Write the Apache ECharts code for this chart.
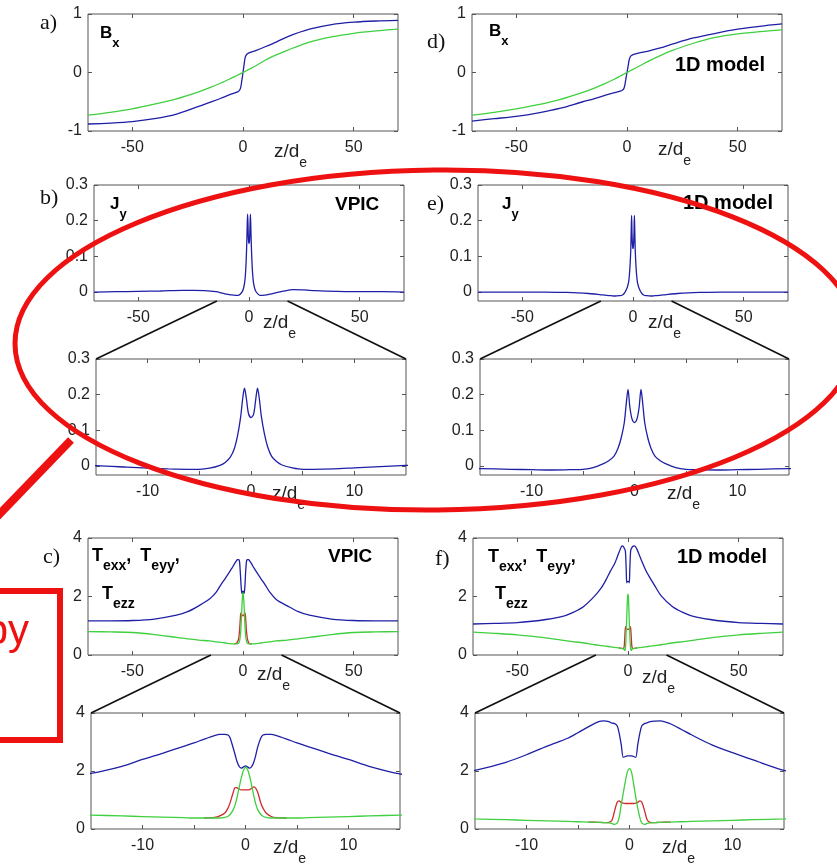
<!DOCTYPE html>
<html>
<head>
<meta charset="utf-8">
<script src="https://cdn.jsdelivr.net/npm/echarts@6/dist/echarts.min.js"></script>
<style>
  html, body { margin: 0; padding: 0; background: #fff; }
  #chart { width: 837px; height: 864px; }
</style>
</head>
<body>
<div id="chart"></div>
<script>
// ---------- B_x profiles (panels a, d) ----------
const zB = [-70,-60,-50,-40,-30,-20,-15,-10,-6,-3,-2,-1.5,-1,-0.5,0,0.5,1,1.5,2,3,6,10,15,20,30,40,50,60,70];
const bxVpicBlue  = [-0.88,-0.865,-0.84,-0.79,-0.71,-0.58,-0.51,-0.44,-0.38,-0.34,-0.32,-0.30,-0.25,-0.13,0,0.14,0.26,0.30,0.32,0.34,0.38,0.44,0.52,0.61,0.74,0.82,0.86,0.88,0.89];
const bxVpicGreen = [-0.73,-0.68,-0.62,-0.54,-0.45,-0.33,-0.26,-0.18,-0.11,-0.055,-0.037,-0.028,-0.018,-0.009,0,0.01,0.02,0.03,0.04,0.06,0.12,0.21,0.30,0.38,0.52,0.61,0.67,0.71,0.74];
const bx1dBlue    = [-0.83,-0.79,-0.75,-0.69,-0.61,-0.50,-0.45,-0.39,-0.35,-0.32,-0.30,-0.28,-0.22,-0.11,0,0.11,0.22,0.27,0.29,0.31,0.34,0.37,0.42,0.48,0.59,0.67,0.74,0.79,0.83];
const bx1dGreen   = [-0.73,-0.68,-0.62,-0.55,-0.46,-0.34,-0.27,-0.19,-0.12,-0.06,-0.04,-0.03,-0.02,-0.01,0,0.01,0.02,0.03,0.04,0.06,0.12,0.20,0.29,0.37,0.50,0.60,0.66,0.70,0.73];

// ---------- J_y profiles (panels b, e) ----------
const zJ = [-70,-60,-50,-40,-30,-25,-20,-15,-12,-10,-8,-6,-5,-4,-3,-2.5,-2,-1.6,-1.3,-1,-0.8,-0.63,-0.45,-0.25,0,0.25,0.45,0.63,0.8,1,1.3,1.6,2,2.5,3,4,5,6,8,10,12,15,20,25,30,40,50,60,70];
const jyVpic = [0,0.001,0.002,0.003,0.005, 0.005,0.004,0.001,-0.003,-0.006, -0.008,-0.009,-0.009,-0.006,0.002,
  0.01,0.025,0.05,0.085,0.138, 0.19,0.218,0.19,0.148,0.136, 0.145,0.185,0.218,0.19,0.14,
  0.09,0.055,0.027,0.012,0.003, -0.005,-0.009,-0.009,-0.008,-0.005, -0.002,0.002,0.007,0.006,0.004, 0.002,0.001,0.001,0];
const jy1d = [0,0,0,0,-0.001, -0.002,-0.004,-0.007,-0.009,-0.01, -0.011,-0.01,-0.009,-0.004,0.007,
  0.015,0.027,0.05,0.078,0.12, 0.175,0.215,0.165,0.133,0.122, 0.133,0.165,0.215,0.175,0.12,
  0.078,0.05,0.027,0.015,0.007, -0.004,-0.009,-0.01,-0.011,-0.01, -0.009,-0.007,-0.004,-0.002,-0.001, 0,0,0,0];

// ---------- electron temperatures (panels c, f) ----------
const zT = [-70,-60,-50,-40,-30,-25,-20,-15,-12,-10,-8,-6,-5,-4,-3,-2.5,-2,-1.7,-1.5,-1.2,-1,-0.8,-0.6,-0.4,-0.2,0,0.2,0.4,0.6,0.8,1,1.2,1.5,1.7,2,2.5,3,4,5,6,8,10,12,15,20,25,30,40,50,60,70];
const tVpicBlue = [1.17,1.17,1.18,1.23,1.36, 1.48,1.68,1.92,2.16,2.40, 2.62,2.85,2.97,3.10,3.22,
  3.26,3.26,3.24,3.15,2.80, 2.55,2.30,2.15,2.10,2.14, 2.18,2.14,2.10,2.15,2.30,
  2.55,2.85,3.15,3.24,3.26, 3.26,3.22,3.10,2.97,2.85, 2.62,2.40,2.16,1.90,1.68, 1.48,1.36,1.23,1.18,1.17, 1.17];
const tVpicGreen = [0.80,0.79,0.77,0.70,0.60, 0.55,0.51,0.48,0.45,0.43, 0.41,0.39,0.38,0.38,0.38,
  0.38,0.40,0.44,0.50,0.66, 0.84,1.12,1.45,1.78,2.02, 2.13,2.05,1.82,1.50,1.15,
  0.86,0.66,0.50,0.44,0.40, 0.38,0.38,0.38,0.38,0.39, 0.41,0.43,0.45,0.48,0.51, 0.55,0.60,0.70,0.77,0.79, 0.80];
const t1dBlue = [1.06,1.08,1.11,1.18,1.31, 1.45,1.66,2.02,2.30,2.56, 2.86,3.13,3.32,3.52,3.70,
  3.73,3.70,3.65,3.64,3.56, 3.30,2.90,2.47,2.50,2.52, 2.52,2.52,2.50,2.47,2.90,
  3.30,3.56,3.64,3.66,3.70, 3.72,3.73,3.62,3.44,3.25, 2.90,2.63,2.38,2.02,1.66, 1.45,1.31,1.18,1.11,1.08, 1.06];
const t1dGreen = [0.78,0.74,0.69,0.61,0.51, 0.46,0.41,0.35,0.32,0.30, 0.28,0.26,0.25,0.24,0.23,
  0.22,0.21,0.19,0.16,0.20, 0.40,0.85,1.25,1.65,1.98, 2.08,1.95,1.55,1.12,0.72,
  0.40,0.20,0.16,0.19,0.21, 0.22,0.23,0.24,0.25,0.26, 0.28,0.30,0.32,0.35,0.41, 0.46,0.51,0.61,0.69,0.74, 0.78];
// the red component coincides with the green one away from the sheet centre,
// so it is only listed over the core where the two separate
const zTcore = [-4,-3,-2.5,-2,-1.7,-1.5,-1.2,-1,-0.8,-0.6,-0.4,-0.2,0,0.2,0.4,0.6,0.8,1,1.2,1.5,1.7,2,2.5,3,4];
const tVpicRed = [0.38,0.40,0.45,0.55,0.72,0.90,1.25,1.43,1.42,1.37,1.35,1.35,1.35,1.35,1.36,1.40,1.45,1.40,1.25,0.88,0.72,0.55,0.43,0.39,0.38];
const t1dRed   = [0.24,0.23,0.22,0.23,0.30,0.55,0.92,0.97,0.91,0.89,0.88,0.88,0.88,0.88,0.88,0.89,0.92,0.97,0.92,0.58,0.33,0.23,0.22,0.23,0.24];

// ---------- axis ticks ----------
const zFullTicks  = [-50, 0, 50];
const zZoomTicks  = [-10, -5, 0, 5, 10];
const zZoomLabels = [-10, 0, 10];
const bxTicks = [-1, 0, 1];
const jyTicks = [0, 0.1, 0.2, 0.3];
const tTicks  = [0, 2, 4];

// ---------- drawing ----------
const FONT = '"Liberation Sans", Arial, Helvetica, sans-serif';
const SERIF = '"Liberation Serif", "Times New Roman", serif';
const AX = '#555';
const TXT = '#222';
const BLUE = '#1f1fa6', GREEN = '#3fcf3f', RED = '#d02a2a';

const yKinds = {
  bx: { min: -1, max: 1, ticks: bxTicks },
  jy: { min: -0.025, max: 0.3, ticks: jyTicks },
  t:  { min: 0, max: 4, ticks: tTicks }
};

const panels = [
  { rect: { left: 88,  top: 14,  width: 310, height: 117 }, kind: 'bx', zoom: false }, // a
  { rect: { left: 472, top: 14,  width: 310, height: 117 }, kind: 'bx', zoom: false }, // d
  { rect: { left: 94,  top: 185, width: 310, height: 116 }, kind: 'jy', zoom: false }, // b
  { rect: { left: 96,  top: 359, width: 310, height: 116 }, kind: 'jy', zoom: true  }, // b, inset
  { rect: { left: 478, top: 185, width: 310, height: 116 }, kind: 'jy', zoom: false }, // e
  { rect: { left: 480, top: 359, width: 309, height: 116 }, kind: 'jy', zoom: true  }, // e, inset
  { rect: { left: 88,  top: 538, width: 310, height: 117 }, kind: 't',  zoom: false }, // c
  { rect: { left: 91,  top: 713, width: 309, height: 116 }, kind: 't',  zoom: true  }, // c, inset
  { rect: { left: 473, top: 538, width: 310, height: 117 }, kind: 't',  zoom: false }, // f
  { rect: { left: 475, top: 713, width: 309, height: 116 }, kind: 't',  zoom: true  }  // f, inset
];

const grids = [], xAxes = [], yAxes = [];
panels.forEach((p, g) => {
  grids.push(Object.assign({ show: true, borderColor: AX, borderWidth: 1, containLabel: false }, p.rect));
  const xr = p.zoom ? [-15, 15] : [-70, 70];
  const xt = p.zoom ? zZoomTicks : zFullTicks;
  const xl = p.zoom ? zZoomLabels : zFullTicks;
  const yk = yKinds[p.kind];
  const line = { show: false, onZero: false };
  const tick = (vals) => ({ show: true, inside: true, length: 4, customValues: vals, lineStyle: { color: AX, width: 1 } });
  const lab = (vals, margin) => ({ show: true, customValues: vals, margin, fontSize: 16, color: TXT, fontFamily: FONT });
  xAxes.push({ type: 'value', gridIndex: g, position: 'bottom', min: xr[0], max: xr[1],
    axisLine: line, splitLine: { show: false }, axisTick: tick(xt), axisLabel: lab(xl, 9) });
  xAxes.push({ type: 'value', gridIndex: g, position: 'top', min: xr[0], max: xr[1],
    axisLine: line, splitLine: { show: false }, axisTick: tick(xt), axisLabel: { show: false } });
  yAxes.push({ type: 'value', gridIndex: g, position: 'left', min: yk.min, max: yk.max,
    axisLine: line, splitLine: { show: false }, axisTick: tick(yk.ticks), axisLabel: lab(yk.ticks, 6) });
  yAxes.push({ type: 'value', gridIndex: g, position: 'right', min: yk.min, max: yk.max,
    axisLine: line, splitLine: { show: false }, axisTick: tick(yk.ticks), axisLabel: { show: false } });
});

function pairs(xs, ys) { return xs.map((x, i) => [x, ys[i]]); }
function curve(g, xs, ys, color) {
  return { type: 'line', xAxisIndex: 2 * g, yAxisIndex: 2 * g, data: pairs(xs, ys),
    symbol: 'none', showSymbol: false, smooth: 0.3, clip: true, silent: true,
    lineStyle: { color, width: 1.3 }, itemStyle: { color } };
}

const series = [
  curve(0, zB, bxVpicBlue, BLUE), curve(0, zB, bxVpicGreen, GREEN),
  curve(1, zB, bx1dBlue, BLUE),   curve(1, zB, bx1dGreen, GREEN),
  curve(2, zJ, jyVpic, BLUE), curve(3, zJ, jyVpic, BLUE),
  curve(4, zJ, jy1d, BLUE),   curve(5, zJ, jy1d, BLUE)
];
[6, 7].forEach(g => series.push(curve(g, zT, tVpicBlue, BLUE), curve(g, zTcore, tVpicRed, RED), curve(g, zT, tVpicGreen, GREEN)));
[8, 9].forEach(g => series.push(curve(g, zT, t1dBlue, BLUE), curve(g, zTcore, t1dRed, RED), curve(g, zT, t1dGreen, GREEN)));

const chart = echarts.init(document.getElementById('chart'), null, { renderer: 'canvas' });
chart.setOption({ animation: false, backgroundColor: '#fff', grid: grids, xAxis: xAxes, yAxis: yAxes, series });

// ---------- text and annotations ----------
const meas = document.createElement('canvas').getContext('2d');
function runs(x, y, parts, color) {
  const els = [];
  let cx = x;
  parts.forEach(([t, px, dy, weight, gap]) => {
    cx += gap || 0;
    const font = `${weight || 'bold'} ${px}px ${FONT}`;
    meas.font = font;
    els.push({ type: 'text', x: cx, y: y + (dy || 0), z: 50, silent: true,
      style: { text: t, font, fill: color || '#000', align: 'left', verticalAlign: 'middle' } });
    cx += meas.measureText(t).width;
  });
  return els;
}
function tag(x, y, t) {
  return { type: 'text', x, y, z: 50, silent: true,
    style: { text: t, font: `normal 22px ${SERIF}`, fill: '#111', align: 'left', verticalAlign: 'middle' } };
}
const sub = (letter, s) => [[letter, 17, 0, 'bold'], [s, 13, 10, 'bold']];
const zde = (x, y) => runs(x, y, [['z/d', 19, 0, 'normal'], ['e', 14, 11, 'normal']], '#222');
const tLine = (x, y) => runs(x, y, [['T', 18, 0], ['exx', 14, 10], [',', 18, 0], ['T', 18, 0, 'bold', 9], ['eyy', 14, 10], [',', 18, 0]]);

const graphic = [
  tag(40, 23, 'a)'), tag(427, 42, 'd)'), tag(40, 198, 'b)'), tag(427, 204, 'e)'), tag(43, 557, 'c)'), tag(435, 559, 'f)'),
  ...runs(100, 33, sub('B', 'x')), ...runs(489, 31, sub('B', 'x')),
  ...runs(675, 65, [['1D model', 20, 0]]),
  ...runs(110, 204, sub('J', 'y')), ...runs(335, 205, [['VPIC', 19, 0]]),
  ...runs(502, 204, sub('J', 'y')), ...runs(683, 203, [['1D model', 20, 0]]),
  ...tLine(92, 556), ...runs(102, 594, [['T', 18, 0], ['ezz', 14, 10]]), ...runs(328, 557, [['VPIC', 19, 0]]),
  ...tLine(488, 557), ...runs(495, 594, [['T', 18, 0], ['ezz', 14, 10]]), ...runs(677, 557, [['1D model', 20, 0]]),
  ...zde(274, 152), ...zde(658, 150),
  ...zde(263, 323), ...zde(272, 494),
  ...zde(648, 323), ...zde(667, 494),
  ...zde(257, 675), ...zde(273, 848),
  ...zde(642, 678), ...zde(662, 848)
];

// connectors from the enlarged range on each full profile to its inset
const spanLeft = -14.5, spanRight = 17.4;
[[2, 3], [4, 5], [6, 7], [8, 9]].forEach(([g, h]) => {
  const ykU = yKinds[panels[g].kind], ykL = yKinds[panels[h].kind];
  const px = (k, v) => chart.convertToPixel({ xAxisIndex: 2 * k, yAxisIndex: 2 * k }, v);
  const a1 = px(g, [spanLeft, ykU.min]), b1 = px(h, [-15, ykL.max]);
  const a2 = px(g, [spanRight, ykU.min]), b2 = px(h, [15, ykL.max]);
  [[a1, b1], [a2, b2]].forEach(([p, q]) => graphic.push({ type: 'line', z: 40, silent: true,
    shape: { x1: p[0], y1: p[1], x2: q[0], y2: q[1] }, style: { stroke: '#111', lineWidth: 1.7 } }));
});

// red hand-drawn highlights
const HL = '#ee1111';
graphic.push(
  { type: 'ellipse', z: 100, silent: true, x: 436, y: 340, rotation: 0.01,
    shape: { cx: 0, cy: 0, rx: 421, ry: 170 }, style: { stroke: HL, lineWidth: 5, fill: null } },
  { type: 'line', z: 100, silent: true, shape: { x1: 71, y1: 440, x2: -10, y2: 524 },
    style: { stroke: HL, lineWidth: 8 } },
  { type: 'rect', z: 100, silent: true, shape: { x: -20, y: 591, width: 80, height: 149 },
    style: { stroke: HL, lineWidth: 6, fill: null } },
  { type: 'text', z: 100, silent: true, x: 29, y: 632,
    style: { text: 'py', font: `normal 42px ${FONT}`, fill: HL, align: 'right', verticalAlign: 'middle' } }
);

chart.setOption({ graphic });
</script>
</body>
</html>
